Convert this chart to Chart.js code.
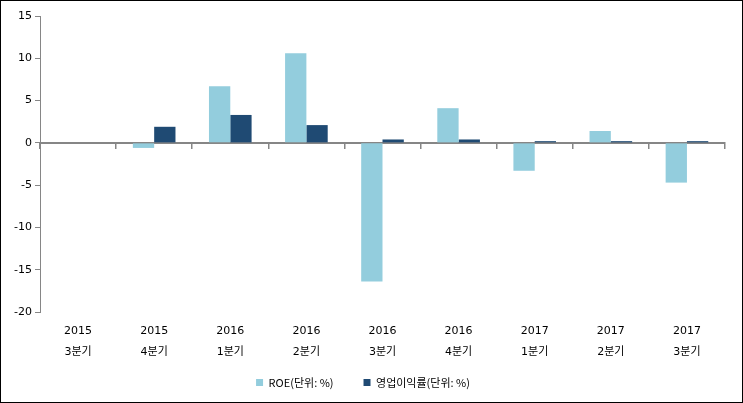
<!DOCTYPE html>
<html>
<head>
<meta charset="utf-8">
<script src="https://cdn.jsdelivr.net/npm/chart.js@4"></script>
<style>
  html, body { margin: 0; padding: 0; background: #fff; }
  #wrap {
    width: 743px;
    height: 403px;
    box-sizing: border-box;
    border: 1px solid #000;
    position: relative;
  }
</style>
</head>
<body>
<div id="wrap"><canvas id="myChart"></canvas></div>
<script>
const years = ["2015", "2015", "2016", "2016", "2016", "2016", "2017", "2017", "2017"];
const quarters = ["3분기", "4분기", "1분기", "2분기", "3분기", "4분기", "1분기", "2분기", "3분기"];

const roeData = [0, -0.6, 6.7, 10.6, -16.4, 4.1, -3.3, 1.4, -4.7]; // ROE (%)
const opMarginData = [0, 1.9, 3.3, 2.1, 0.4, 0.4, 0.2, 0.2, 0.2]; // 영업이익률 (%)

const yMin = -20;
const yMax = 15;
const yStep = 5;

const labels = years.map((y, i) => [y, quarters[i]]);

const baseFont = { family: "'DejaVu Sans', 'Noto Sans CJK KR', sans-serif", size: 11 };

new Chart(document.getElementById("myChart"), {
  type: "bar",
  data: {
    labels: labels,
    datasets: [
      {
        label: "ROE(단위: %)",
        data: roeData,
        backgroundColor: "#93CDDD",
        categoryPercentage: 0.56,
        barPercentage: 1,
      },
      {
        label: "영업이익률(단위: %)",
        data: opMarginData,
        backgroundColor: "#1F4A73",
        categoryPercentage: 0.56,
        barPercentage: 1,
      },
    ],
  },
  options: {
    responsive: true,
    maintainAspectRatio: false,
    animation: false,
    layout: {
      padding: { top: 15, right: 17, bottom: 4, left: 0 },
    },
    plugins: {
      tooltip: { enabled: false },
      legend: {
        position: "bottom",
        labels: {
          boxWidth: 7,
          boxHeight: 7,
          padding: 30,
          color: "#000",
          font: { family: "'Noto Sans CJK KR', sans-serif", size: 11 },
        },
      },
    },
    scales: {
      // reserves room under the plot for the category labels
      x: {
        position: "bottom",
        border: { display: false },
        grid: { display: false },
        ticks: { display: false },
        afterFit: (scale) => {
          scale.height = 35;
        },
      },
      // two-line category labels hung off the bottom of the y range (not clipped)
      xLabels: {
        type: "category",
        axis: "x",
        position: { y: yMin },
        labels: labels,
        offset: true,
        border: { display: false },
        grid: { display: false, drawTicks: false, tickLength: 0 },
        ticks: {
          color: "#000",
          font: { ...baseFont, lineHeight: 1.95 },
          maxRotation: 0,
          autoSkip: false,
          padding: 8,
        },
        afterFit: (scale) => {
          scale.height = 0;
        },
      },
      zeroAxis: {
        type: "category",
        axis: "x",
        position: { y: 0 },
        labels: labels,
        offset: true,
        border: { color: "#868686", width: 2 },
        grid: {
          drawOnChartArea: false,
          offset: true,
          color: "#868686",
          tickLength: 5,
          lineWidth: 1.5,
        },
        ticks: { display: false },
        afterFit: (scale) => {
          scale.height = 0;
        },
      },
      y: {
        min: yMin,
        max: yMax,
        border: { color: "#868686", width: 1 },
        grid: {
          drawOnChartArea: false,
          color: "#868686",
          tickLength: 5,
        },
        ticks: {
          stepSize: yStep,
          color: "#000",
          font: baseFont,
          padding: 3,
        },
        afterFit: (scale) => {
          scale.width = 39;
        },
      },
    },
  },
});
</script>
</body>
</html>
